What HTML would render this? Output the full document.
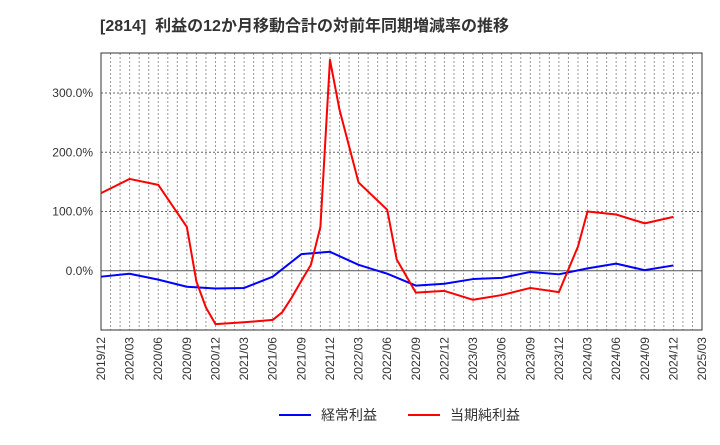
<!DOCTYPE html>
<html><head><meta charset="utf-8"><style>
body{margin:0;background:#fff;font-family:"Liberation Sans","Noto Sans CJK JP",sans-serif;}
svg text{font-family:"Liberation Sans","Noto Sans CJK JP",sans-serif;}
</style></head><body>
<svg id="chart" width="720" height="440" xmlns="http://www.w3.org/2000/svg">
<text x="100" y="31" font-size="16" font-weight="bold" fill="#333">[2814]&#160;&#160;利益の12か月移動合計の対前年同期増減率の推移</text>
<g id="grid"></g><g id="axes"></g><g id="series"></g>
<g>
<line x1="279" y1="415" x2="311" y2="415" stroke="#0000ff" stroke-width="2"/>
<text x="321" y="420" font-size="14" fill="#333">経常利益</text>
<line x1="408" y1="415" x2="440" y2="415" stroke="#ff0000" stroke-width="2"/>
<text x="450" y="420" font-size="14" fill="#333">当期純利益</text>
</g>
</svg>
<script>
const tickLabels=["2019/12","2020/03","2020/06","2020/09","2020/12","2021/03","2021/06","2021/09","2021/12","2022/03","2022/06","2022/09","2022/12","2023/03","2023/06","2023/09","2023/12","2024/03","2024/06","2024/09","2024/12","2025/03"];
const yTicks=[0,100,200,300];
const blueMonths=[0,3,6,9,12,15,18,21,24,27,30,33,36,39,42,45,48,51,54,57,60];
const blueValues=[-10,-5,-15,-27,-30,-29,-10,28,32,10,-5,-25,-22,-14,-12,-2,-6,4,12,1,9];
const redMonths=[0,3,6,9,10,11,12,15,18,19,20,21,22,23,24,25,27,30,31,33,36,39,42,45,48,50,51,54,57,60];
const redValues=[131,155,145,74,-18,-62,-90,-87,-83,-70,-45,-17,10,74,356,272,149,103,19,-37,-34,-49,-41,-29,-36,41,100,95,80,91];
const L=101,R=702,T=53,B=330,yMin=-100,yMax=367.6,nMonths=63;
const xs=m=>L+(R-L)*m/nMonths;
const ys=v=>B-(B-T)*(v-yMin)/(yMax-yMin);
const NS="http://www.w3.org/2000/svg";
function mk(tag,attrs,parent,txt){const e=document.createElementNS(NS,tag);for(const k in attrs)e.setAttribute(k,attrs[k]);if(txt!==undefined)e.textContent=txt;parent.appendChild(e);return e;}
const grid=document.getElementById('grid'),axes=document.getElementById('axes'),series=document.getElementById('series');
for(let m=1;m<nMonths;m++){const l=mk('line',{x1:xs(m),x2:xs(m),y1:T,y2:B,stroke:'#999','stroke-width':1,'stroke-dasharray':'2,2'},grid);

}
yTicks.forEach(v=>{const l=mk('line',{x1:L,x2:R,y1:ys(v),y2:ys(v),stroke:v===0?'#555':'#666','stroke-width':1,'stroke-dasharray':v===0?'':'2,2'},grid);


const t=mk('text',{x:L-8,y:ys(v)+4,'font-size':12,'text-anchor':'end',fill:'#333'},axes,v.toFixed(1)+'%');

});
tickLabels.forEach((s,i)=>{const x=xs(i*3);const t=mk('text',{x:0,y:0,'font-size':12,'text-anchor':'end',fill:'#333',transform:`translate(${x+4},${B+7}) rotate(-90)`},axes,s);

});
const frame=mk('rect',{x:L,y:T,width:R-L,height:B-T,fill:'none',stroke:'#333','stroke-width':1},axes);


function line(ms,vs,color,name){const p=mk('polyline',{points:ms.map((m,i)=>xs(m)+','+ys(vs[i])).join(' '),fill:'none',stroke:color,'stroke-width':2,'stroke-linejoin':'round'},series);

}
line(blueMonths,blueValues,'#0000ff','ordinary-profit-line');
line(redMonths,redValues,'#ff0000','net-profit-line');
</script>
</body></html>
